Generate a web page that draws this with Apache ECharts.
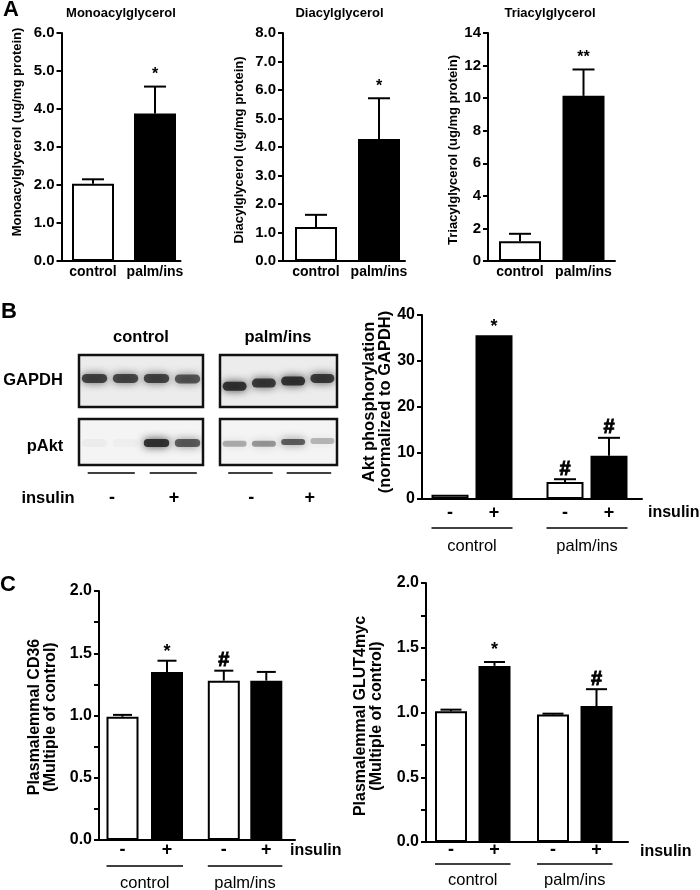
<!DOCTYPE html>
<html><head><meta charset="utf-8">
<script src="https://cdn.jsdelivr.net/npm/echarts@6/dist/echarts.min.js"></script>
<style>html,body{margin:0;padding:0;background:#fff}#c{width:700px;height:890px}</style>
</head><body><div id="c"></div>
<script>
// ---------------- data ----------------
const groupsA = ['control', 'palm/ins'];
const monoMean = [2.03, 3.88];
const monoErr = [0.12, 0.71];
const monoSig = ['', '*'];
const diMean = [1.19, 4.28];
const diErr = [0.43, 1.43];
const diSig = ['', '*'];
const triMean = [1.22, 10.14];
const triErr = [0.45, 1.62];
const triSig = ['', '**'];

const insulinLabels = ['-', '+', '-', '+'];
const treatGroups = ['control', 'palm/ins'];

const aktMean = [0.9, 35.6, 3.7, 9.4];
const aktErr = [0, 0, 0.6, 3.9];
const aktSig = ['', '*', '#', '#'];

const cd36Mean = [0.99, 1.35, 1.28, 1.28];
const cd36Err = [0.015, 0.09, 0.08, 0.07];
const cd36Sig = ['', '*', '#', ''];

const glutMean = [1.01, 1.36, 0.985, 1.05];
const glutErr = [0.012, 0.03, 0.006, 0.13];
const glutSig = ['', '*', '', '#'];

const blotLanes = ['-', '-', '+', '+'];
const gapdhControl = [0.85, 0.82, 0.84, 0.74];
const gapdhPalm = [0.95, 0.9, 0.95, 0.9];
const paktControl = [0.04, 0.03, 0.95, 0.72];
const paktPalm = [0.35, 0.45, 0.72, 0.3];

// ---------------- layout ----------------
const FONT = '"Liberation Sans", Arial, sans-serif';
const option = {animation: false, backgroundColor: '#fff', textStyle: {fontFamily: FONT},
  grid: [], xAxis: [], yAxis: [], series: [], graphic: []};

function txt(text, x, y, font, opts) {
  opts = opts || {};
  option.graphic.push({type: 'text', x: x, y: y, rotation: opts.rot || 0, z: 50,
    style: {text: text, font: font + ' ' + FONT, fill: '#000',
      align: opts.align || 'center', verticalAlign: opts.va || 'middle',
      textAlign: opts.align || 'center', textVerticalAlign: opts.va || 'middle',
      lineHeight: opts.lh || undefined}});
}

function addBarChart(c) {
  const gi = option.grid.length;
  option.grid.push({left: c.left, top: c.top, width: c.width, height: c.height});
  option.xAxis.push({gridIndex: gi, type: 'value', min: 0, max: c.width,
    axisLine: {show: true, onZero: false, lineStyle: {color: '#000', width: 2}},
    axisTick: {show: false}, axisLabel: {show: false}, splitLine: {show: false}});
  option.yAxis.push({gridIndex: gi, type: 'value', min: 0, max: c.ymax, interval: c.interval,
    axisLine: {show: true, lineStyle: {color: '#000', width: 2}},
    axisTick: {show: true, inside: false, length: 5, lineStyle: {color: '#000', width: 2}},
    splitLine: {show: false},
    axisLabel: {margin: 7, color: '#000', fontWeight: 'bold', fontSize: c.tickFont, fontFamily: FONT, formatter: c.fmt}});
  option.series.push({type: 'bar', xAxisIndex: gi, yAxisIndex: gi, barWidth: c.barWidth, z: 2,
    itemStyle: {borderColor: '#000', borderWidth: 2},
    data: c.means.map((m, i) => ({value: [c.pos[i], m], itemStyle: {color: c.fills[i]}}))});
  option.series.push({type: 'custom', xAxisIndex: gi, yAxisIndex: gi, z: 3, clip: false,
    data: c.means.map((m, i) => [c.pos[i], m, c.errs[i]]),
    renderItem: function (p, api) {
      const i = p.dataIndex;
      const x = api.value(0), v = api.value(1), e = api.value(2);
      const b = api.coord([x, v]), t = api.coord([x, v + e]), z0 = api.coord([x, 0]);
      const ch = [];
      if (e > 0) {
        ch.push({type: 'line', shape: {x1: b[0], y1: b[1], x2: t[0], y2: t[1]}, style: {stroke: '#000', lineWidth: 2}});
        ch.push({type: 'line', shape: {x1: t[0] - c.capW / 2, y1: t[1], x2: t[0] + c.capW / 2, y2: t[1]}, style: {stroke: '#000', lineWidth: 2}});
      }
      const s = c.sigs[i];
      if (s) {
        const isStar = s.indexOf('*') >= 0;
        const gap = isStar ? c.starGap : c.hashGap;
        ch.push({type: 'text', x: t[0], y: t[1] - gap, style: {text: s, font: 'bold ' + (isStar ? c.sigFont : c.sigFont + 2) + 'px ' + FONT, fill: '#000', stroke: isStar ? null : '#000', lineWidth: isStar ? 0 : 0.9, align: 'center', verticalAlign: 'middle', textAlign: 'center', textVerticalAlign: 'middle'}});
      }
      if (c.under) {
        ch.push({type: 'text', x: z0[0], y: z0[1] + c.underGap, style: {text: c.under[i], font: c.underFont + ' ' + FONT, fill: '#000', align: 'center', verticalAlign: 'middle', textAlign: 'center', textVerticalAlign: 'middle'}});
      }
      return {type: 'group', children: ch};
    }});
  if (c.groups) {
    const pairs = c.groups.map((g, k) => [2 * k, 2 * k + 1]);
    option.series.push({type: 'custom', xAxisIndex: gi, yAxisIndex: gi, z: 3, clip: false,
      data: pairs.map(pr => [c.pos[pr[0]], c.pos[pr[1]]]),
      renderItem: function (p, api) {
        const a = api.coord([api.value(0), 0]), b = api.coord([api.value(1), 0]);
        const hw = c.barWidth / 2;
        return {type: 'group', children: [
          {type: 'line', shape: {x1: a[0] - hw, y1: a[1] + c.lineGap, x2: b[0] + hw, y2: a[1] + c.lineGap}, style: {stroke: '#000', lineWidth: 1.5}},
          {type: 'text', x: (a[0] + b[0]) / 2, y: a[1] + c.groupGap, style: {text: c.groups[p.dataIndex], font: '16.5px ' + FONT, fill: '#000', align: 'center', verticalAlign: 'middle', textAlign: 'center', textVerticalAlign: 'middle'}}
        ]};
      }});
  }
}

const fmt1 = v => v.toFixed(1);
const fmt0 = v => String(Math.round(v));
const fmtHalf = v => (Math.abs(v * 2 - Math.round(v * 2)) < 1e-6 ? v.toFixed(1) : '');

const baseA = {top: 33, height: 228, tickFont: 15, barWidth: 42, capW: 22, fills: ['#fff', '#000'],
  under: groupsA, underGap: 11, underFont: 'bold 14px', starGap: 12, hashGap: 10, sigFont: 16};
addBarChart(Object.assign({}, baseA, {left: 61.5, width: 119, ymax: 6, interval: 1, fmt: fmt1, pos: [31.5, 93.5], means: monoMean, errs: monoErr, sigs: monoSig}));
addBarChart(Object.assign({}, baseA, {left: 283, width: 122, ymax: 8, interval: 1, fmt: fmt1, pos: [33, 96], means: diMean, errs: diErr, sigs: diSig}));
addBarChart(Object.assign({}, baseA, {left: 488, width: 127, ymax: 14, interval: 2, fmt: fmt0, pos: [32, 95.5], means: triMean, errs: triErr, sigs: triSig}));

addBarChart({left: 422, top: 315, width: 220, height: 184, ymax: 40, interval: 10, fmt: fmt0, tickFont: 16,
  pos: [28, 72, 143, 187], barWidth: 37, capW: 22, fills: ['#fff', '#000', '#fff', '#000'],
  means: aktMean, errs: aktErr, sigs: aktSig, starGap: 8, hashGap: 10, sigFont: 18,
  under: insulinLabels, underGap: 14, underFont: 'bold 18px', groups: treatGroups, lineGap: 29, groupGap: 47});

addBarChart({left: 99, top: 591, width: 196, height: 249, ymax: 2, interval: 0.25, fmt: fmtHalf, tickFont: 16,
  pos: [23.5, 68, 124.8, 167.3], barWidth: 32, capW: 19, fills: ['#fff', '#000', '#fff', '#000'],
  means: cd36Mean, errs: cd36Err, sigs: cd36Sig, starGap: 9, hashGap: 10, sigFont: 18,
  under: insulinLabels, underGap: 10, underFont: 'bold 18px', groups: treatGroups, lineGap: 26, groupGap: 43});

addBarChart({left: 426, top: 583, width: 202, height: 259, ymax: 2, interval: 0.25, fmt: fmtHalf, tickFont: 16,
  pos: [25, 68.5, 127, 170.5], barWidth: 32, capW: 21, fills: ['#fff', '#000', '#fff', '#000'],
  means: glutMean, errs: glutErr, sigs: glutSig, starGap: 12, hashGap: 10, sigFont: 18,
  under: insulinLabels, underGap: 8, underFont: 'bold 18px', groups: treatGroups, lineGap: 22, groupGap: 38});

// ---------------- blots ----------------
function addBlot(c) {
  const gi = option.grid.length;
  option.grid.push({left: c.left, top: c.top, width: c.width, height: c.height, show: true,
    borderColor: '#111', borderWidth: 2.5, backgroundColor: c.bg});
  option.xAxis.push({gridIndex: gi, type: 'category', data: blotLanes, show: false});
  option.yAxis.push({gridIndex: gi, type: 'value', min: 0, max: 1, show: false});
  option.series.push({type: 'custom', xAxisIndex: gi, yAxisIndex: gi, z: 2, clip: true,
    data: c.vals.map((v, i) => [i, v]),
    renderItem: function (p, api) {
      const i = p.dataIndex, v = api.value(1);
      const ctr = api.coord([i, c.bandY[i]]);
      const w = api.size([1, 0])[0] * 0.82;
      return {type: 'rect', shape: {x: ctr[0] - w / 2, y: ctr[1] - c.h / 2, width: w, height: c.h, r: c.h / 2},
        style: {fill: 'rgba(30,30,30,' + (v * 0.9) + ')', shadowBlur: 8, shadowColor: 'rgba(0,0,0,' + (v * 0.9) + ')'}};
    }});
  if (c.marks) {
    const pairs = [];
    for (let k = 0; k < blotLanes.length; k += 2) pairs.push([k, k + 1]);
    option.series.push({type: 'custom', xAxisIndex: gi, yAxisIndex: gi, z: 3, clip: false,
      data: pairs,
      renderItem: function (p, api) {
        const a = api.coord([api.value(0), 0]), b = api.coord([api.value(1), 0]);
        const bw = api.size([1, 0])[0];
        const cx = (a[0] + b[0]) / 2;
        return {type: 'group', children: [
          {type: 'line', shape: {x1: a[0] - 0.22 * bw, y1: a[1] + 8, x2: b[0] + 0.3 * bw, y2: a[1] + 8}, style: {stroke: '#000', lineWidth: 1.5}},
          {type: 'text', x: cx + 2, y: a[1] + 33, style: {text: blotLanes[api.value(0)], font: 'bold 18px ' + FONT, fill: '#000', align: 'center', verticalAlign: 'middle', textAlign: 'center', textVerticalAlign: 'middle'}}
        ]};
      }});
  }
}
addBlot({left: 79, top: 355, width: 124, height: 52, vals: gapdhControl, bandY: [0.55, 0.55, 0.55, 0.54], h: 9, bg: '#ececec'});
addBlot({left: 220, top: 355, width: 117, height: 52, vals: gapdhPalm, bandY: [0.40, 0.46, 0.50, 0.55], h: 9, bg: '#ececec'});
addBlot({left: 79, top: 419, width: 124, height: 46, vals: paktControl, bandY: [0.48, 0.48, 0.48, 0.48], h: 8, bg: '#f4f4f4', marks: true});
addBlot({left: 220, top: 419, width: 117, height: 46, vals: paktPalm, bandY: [0.46, 0.46, 0.50, 0.52], h: 6, bg: '#f4f4f4', marks: true});

// ---------------- texts ----------------
txt('A', 11, 10, 'bold 22px');
txt('B', 9, 312, 'bold 22px');
txt('C', 8, 585, 'bold 22px');

txt('Monoacylglycerol', 121, 13, 'bold 13px');
txt('Diacylglycerol', 339.5, 13, 'bold 13px');
txt('Triacylglycerol', 550, 13, 'bold 13px');

txt('Monoacylglycerol (ug/mg protein)', 17.5, 132, 'bold 13px', {rot: Math.PI / 2});
txt('Diacylglycerol (ug/mg protein)', 239, 150, 'bold 13px', {rot: Math.PI / 2});
txt('Triacylglycerol (ug/mg protein)', 453, 150, 'bold 13px', {rot: Math.PI / 2});

txt('control', 141, 337, 'bold 16.5px');
txt('palm/ins', 278, 337, 'bold 16.5px');
txt('GAPDH', 33, 380, 'bold 16.5px');
txt('pAkt', 45, 446, 'bold 16.5px');
txt('insulin', 48, 498, 'bold 16.5px');

txt('Akt phosphorylation\n(normalized to GAPDH)', 377, 402, 'bold 16.5px', {rot: Math.PI / 2, lh: 16});
txt('insulin', 648, 513, 'bold 16px', {align: 'left'});

txt('Plasmalemmal CD36\n(Multiple of control)', 43, 717, 'bold 16px', {rot: Math.PI / 2, lh: 16});
txt('insulin', 290, 851, 'bold 16px', {align: 'left'});

txt('Plasmalemmal GLUT4myc\n(Multiple of control)', 369, 716, 'bold 16px', {rot: Math.PI / 2, lh: 16});
txt('insulin', 640, 852, 'bold 16px', {align: 'left'});

const chart = echarts.init(document.getElementById('c'), null, {renderer: 'canvas'});
chart.setOption(option);
</script>
</body></html>
